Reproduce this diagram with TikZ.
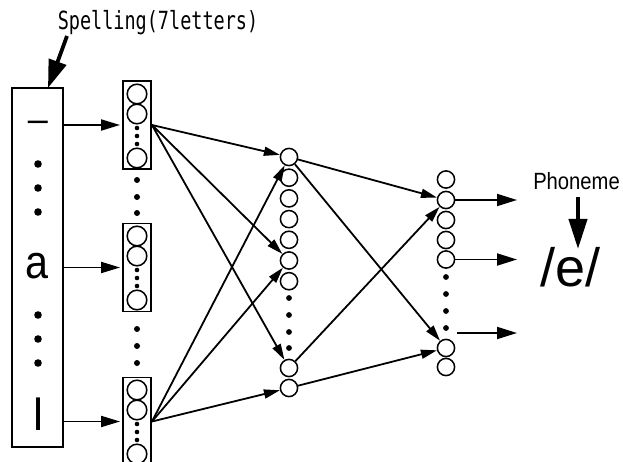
\documentclass[tikz,border=0pt]{standalone}
\usepackage{fontspec}
\setmainfont{Liberation Sans}
\newfontfamily\monof{DejaVu Sans Mono}
\usetikzlibrary{arrows.meta}
\begin{document}
\begin{tikzpicture}[x=1pt,y=-1pt,line width=1.8pt,
  hunit/.style={circle,draw,line width=1.5pt,minimum size=17.2pt,inner sep=0pt},
  bunit/.style={circle,draw,line width=1.5pt,minimum size=19.6pt,inner sep=0pt},
  grp/.style={draw,line width=1.9pt,minimum width=28pt,minimum height=88pt,inner sep=0pt},
  conn/.style={-{Triangle[length=16pt,width=9pt]},line width=1.8pt},
  inarr/.style={-{Triangle[length=19pt,width=11pt]},line width=1.9pt,shorten >=2pt},
  outarr/.style={-{Triangle[length=20pt,width=12pt]},line width=1.9pt},
  bigarr/.style={-{Triangle[length=28pt,width=18pt]},line width=3.8pt},
  letter/.style={anchor=base,inner sep=0pt}
]
\useasboundingbox (0,0) rectangle (623,462);
\clip (0,0) rectangle (623,462);

% spelling label and big box
\node[letter,xscale=0.74,font=\monof\fontsize{25}{26}\selectfont] (lab) at (158,30) {Spelling(7letters)};
\node[draw,line width=2pt,minimum width=51pt,minimum height=359pt,inner sep=0pt] (spell) at (37.5,267.5) {};
\coordinate (sa) at (67,36);
\coordinate (sb) at (48,88);
\draw[bigarr] (sa) -- (sb);

\node[letter,font=\fontsize{36}{36}\selectfont] (l1) at (38,132) {–};
\node[letter,xscale=0.88,font=\fontsize{47}{47}\selectfont] (l4) at (37,278) {a};
\node[letter,font=\fontsize{45}{45}\selectfont] (l7) at (38,430) {l};
\foreach \y in {164,188,212,315,339,363} \fill (38,\y) circle (3.8pt);

% grouped input boxes
\node[grp] (g1) at (137,125) {};
\node[grp] (g2) at (137,267.5) {};
\node[grp] (g3) at (137,421.5) {};
\foreach \g/\t in {1/94,2/236,3/390} {
  \node[bunit] (g\g a) at (137,\t) {};
  \node[bunit] (g\g b) at (137,\t+20) {};
  \node[bunit] (g\g c) at (137,\t+64) {};
  \foreach \d in {34,42,50} \fill (137,\t+\d) circle (2.3pt);
}
\foreach \y in {180,197,213,329,346,363} \fill (137,\y) circle (3pt);

\draw[inarr] (spell.east |- g1.west) -- (g1.west);
\draw[inarr] (spell.east |- g2.west) -- (g2.west);
\draw[inarr] (spell.east |- g3.west) -- (g3.west);

% hidden layer
\foreach \i in {1,...,7} \node[hunit] (h\i) at (289,{157+20.7*(\i-1)}) {};
\node[hunit] (h8) at (289,368) {};
\node[hunit] (h9) at (289,388) {};
\foreach \y in {298,315,332,348} \fill (289,\y) circle (2.9pt);

\draw[conn] (g1.east) -- (h1);
\draw[conn] (g1.east) -- (h6);
\draw[conn] (g1.east) -- (h8);
\draw[conn] (g3.east) -- (h1);
\draw[conn] (g3.east) -- (h6);
\draw[conn] (g3.east) -- (h9);

% output layer
\foreach \i/\y in {1/179.5,2/200,3/220,4/240,5/259.5,6/348,7/367} \node[hunit] (o\i) at (446,\y) {};
\foreach \y in {277,294,311,328} \fill (446,\y) circle (2.9pt);

\draw[conn] (h1) -- (o2);
\draw[conn] (h1) -- (o6);
\draw[conn] (h8) -- (o2);
\draw[conn] (h9) -- (o6);

\coordinate (t1) at (517,200);
\coordinate (t2) at (517,259.5);
\coordinate (s3) at (457,333);
\coordinate (t3) at (517,333);
\draw[outarr] (o2.east) -- (t1);
\draw[outarr] (o5.east) -- (t2);
\draw[outarr] (s3) -- (t3);

% phoneme
\node[letter,xscale=0.86,font=\fontsize{23.5}{24}\selectfont] (phon) at (576.5,190) {Phoneme};
\node[letter,font=\fontsize{54}{54}\selectfont] (ph) at (570.5,286) {/e/};
\coordinate (pa) at (578,197);
\coordinate (pb) at (578,249);
\draw[-{Triangle[length=30pt,width=18pt]},line width=4pt] (pa) -- (pb);
\end{tikzpicture}
\end{document}
